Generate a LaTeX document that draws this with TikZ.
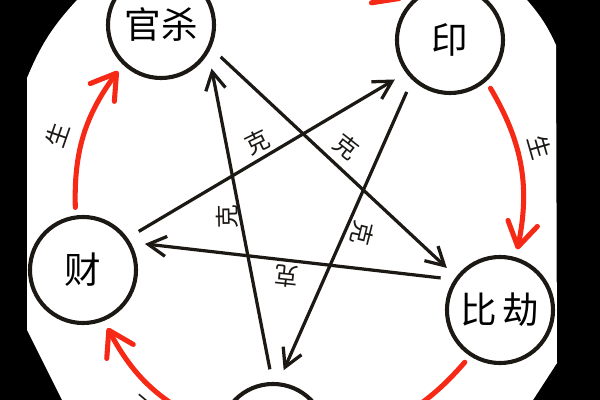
\documentclass[tikz,border=0pt]{standalone}
\usepackage{fontspec}
\newfontfamily\cjk{Noto Sans CJK SC}
\usepackage{xcolor}
\usetikzlibrary{arrows.meta}
\definecolor{shengred}{RGB}{246,40,22}
\definecolor{inkblack}{RGB}{28,24,20}

\begin{document}
\begin{tikzpicture}[
  x=0.025cm, y=-0.025cm,
  font=\cjk,
  elem/.style={circle, draw=inkblack, line width=2.9pt, minimum size=2.65cm,
               inner sep=0pt, outer sep=2.5mm, fill=white,
               font=\cjk\fontsize{26}{30}\selectfont},
  sheng/.style={draw=shengred, line width=3.6pt, line cap=round,
                -{Straight Barb[length=6mm, width=7.5mm, round]}},
  ke/.style={draw=inkblack, line width=2.3pt, shorten <=1.2mm, shorten >=1.2mm,
             -{Straight Barb[length=4.5mm, width=5mm]}},
  lbl/.style={font=\cjk\fontsize{17}{20}\selectfont, text=inkblack, inner sep=1pt}
]
\useasboundingbox (0,0) rectangle (600,400);
\clip (0,0) rectangle (600,400);

% ===== frame =====
\fill[black] (0,0) rectangle (600,400);
\fill[white] (77,0) -- (527,0) to[bend left=8] (556,45) -- (557,363)
  -- (533,400) -- (62,400) -- (27,330) -- (27,78) to[bend left=10] (77,0) -- cycle;

% ===== five elements =====
\node[elem] (guan) at (161,25) {官杀};
\node[elem] (yin) at (450,40) {印};
\node[elem] (bi) at (500,310) {比\hspace{1.5mm}劫};
\node[elem] (cai) at (83,270) {财};
\node[elem] (shi) at (273,437) {};

% sheng cycle (red)
\draw[sheng] (cai.97) to[bend left=19] (guan.227);
\draw[sheng] (guan.35) to[bend left=20] (yin.140);
\draw[sheng] (yin.-50) to[bend left=21] (bi.74);
\draw[sheng] (bi.-124) to[bend left=19] (shi.0);
\draw[sheng] (shi.169) to[bend left=19] (cai.-67);

\node[lbl, rotate=71] (sheng1) at (57,135) {生};
\node[lbl, rotate=-74] (sheng2) at (540,147) {生};
\node[lbl, rotate=140] (sheng3) at (141,409) {生};

% ke star (black)
\draw[ke] (yin.-131) -- (shi.82);
\draw[ke] (shi.92) -- (guan.-38);
\draw[ke] (guan.-27) -- (bi.142);
\draw[ke] (bi.150) -- (cai.25);
\draw[ke] (cai.35) -- (yin.-144);

\node[lbl, rotate=26] (ke1) at (257,142) {克};
\node[lbl, rotate=-38] (ke2) at (347,147) {克};
\node[lbl, rotate=91] (ke3) at (227,217) {克};
\node[lbl, rotate=-104] (ke4) at (362,233) {克};
\node[lbl, rotate=174] (ke5) at (287,276) {克};

\end{tikzpicture}
\end{document}
